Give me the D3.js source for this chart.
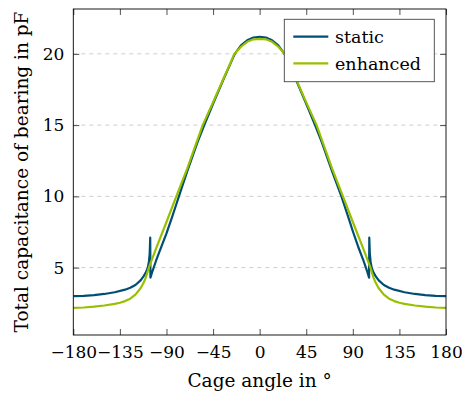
<!DOCTYPE html>
<html>
<head>
<meta charset="utf-8">
<script src="https://cdn.jsdelivr.net/npm/d3@7"></script>
<style>
  html, body { margin: 0; padding: 0; background: #fff; }
  svg text { font-family: "DejaVu Serif", "Liberation Serif", "Noto Serif", serif; fill: #000; }
</style>
</head>
<body>
<svg id="chart" width="462" height="395"></svg>
<script>
// ---- data ----
const seriesNames = ["static", "enhanced"];
const staticAngles = [-180, -170, -160, -150, -140, -130, -125, -120, -115, -112, -110, -108, -107, -106.2, -105.7, -105.5, -104, -100, -95, -90, -85, -80, -78, -70, -60, -53.5, -45, -35, -28, -24, -18, -12, -6, 0,
  6, 12, 18, 24, 28, 35, 45, 53.5, 60, 70, 79, 81, 86, 90, 95, 100, 104, 105.7, 105.9, 106.4, 107.2, 108.2, 110, 112, 115, 120, 125, 130, 140, 150, 160, 170, 180];
const staticValues = [3.0, 3.02, 3.07, 3.15, 3.27, 3.45, 3.58, 3.78, 4.1, 4.4, 4.65, 5.0, 5.4, 6.0, 7.1, 4.3, 4.65, 5.5, 6.45, 7.4, 8.45, 9.55, 10.0, 11.75, 13.8, 15.0, 16.5, 18.2, 19.35, 20.0, 20.6, 20.95, 21.15, 21.2,
  21.15, 20.95, 20.6, 20.0, 19.35, 18.2, 16.5, 15.0, 13.8, 11.75, 10.0, 9.55, 8.45, 7.55, 6.5, 5.55, 4.7, 4.3, 7.1, 6.0, 5.4, 5.0, 4.65, 4.4, 4.1, 3.78, 3.58, 3.45, 3.27, 3.15, 3.07, 3.02, 3.0];
const enhancedAngles = [-180, -170, -160, -150, -140, -135, -130, -125, -120, -115, -112, -110, -107, -100, -90, -80.5, -70, -55, -45, -35, -28, -24.5, -18, -12, -6, 0,
  6, 12, 18, 24.5, 28, 35, 45, 55, 70, 80.5, 90, 100, 107, 110, 112, 115, 120, 125, 130, 135, 140, 150, 160, 170, 180];
const enhancedValues = [2.17, 2.2, 2.26, 2.34, 2.45, 2.53, 2.65, 2.82, 3.1, 3.55, 3.95, 4.3, 5.0, 6.35, 8.2, 10.0, 11.95, 15.0, 16.6, 18.25, 19.4, 20.0, 20.5, 20.85, 21.02, 21.05,
  21.02, 20.85, 20.5, 20.0, 19.4, 18.25, 16.6, 15.0, 11.95, 10.0, 8.2, 6.35, 5.0, 4.3, 3.95, 3.55, 3.1, 2.82, 2.65, 2.53, 2.45, 2.34, 2.26, 2.2, 2.17];
const xTicks = [-180, -135, -90, -45, 0, 45, 90, 135, 180];
const xTickLabels = ["−180", "−135", "−90", "−45", "0", "45", "90", "135", "180"];
const yTicks = [5, 10, 15, 20];
const yTickLabels = ["5", "10", "15", "20"];
const xLabel = "Cage angle in °";
const yLabel = "Total capacitance of bearing in pF";
const colors = ["#004E73", "#99C000"];

// ---- layout ----
const FONT = "'DejaVu Serif', 'Liberation Serif', 'Noto Serif', serif";
const FS = 17, FS_TITLE = 18.5, FS_LEG = 17.5;
const L = 73.3, R = 446, T = 9, B = 335;
const svg = d3.select("#chart");
const x = d3.scaleLinear().domain([-180, 180]).range([L, R]);
const y = d3.scaleLinear().domain([0.27, 23.15]).range([B, T]);

// grid
svg.append("g").selectAll("line").data(yTicks).join("line")
  .attr("x1", L).attr("x2", R)
  .attr("y1", d => y(d)).attr("y2", d => y(d))
  .attr("stroke", "#c8c8c8").attr("stroke-width", 0.9)
  .attr("stroke-dasharray", "4,4");

// data lines
const clipId = "plotclip";
svg.append("clipPath").attr("id", clipId).append("rect")
  .attr("x", L).attr("y", T).attr("width", R - L).attr("height", B - T);
const line = d3.line().x(d => x(d[0])).y(d => y(d[1]));
const series = [
  d3.zip(staticAngles, staticValues),
  d3.zip(enhancedAngles, enhancedValues)
];
svg.append("g").attr("clip-path", `url(#${clipId})`)
  .selectAll("path").data(series).join("path")
  .attr("d", line)
  .attr("fill", "none")
  .attr("stroke", (d, i) => colors[i])
  .attr("stroke-width", 2.2)
  .attr("stroke-linejoin", "round");

// axes (ticks inside, mirrored)
const tk = 6;
const axB = svg.append("g").attr("transform", `translate(0,${B})`)
  .call(d3.axisBottom(x).tickValues(xTicks).tickFormat((d, i) => xTickLabels[i]).tickSize(-tk).tickPadding(11));
const axT = svg.append("g").attr("transform", `translate(0,${T})`)
  .call(d3.axisTop(x).tickValues(xTicks).tickFormat("").tickSize(-tk));
const axL = svg.append("g").attr("transform", `translate(${L},0)`)
  .call(d3.axisLeft(y).tickValues(yTicks).tickFormat((d, i) => yTickLabels[i]).tickSize(-tk).tickPadding(9));
const axR = svg.append("g").attr("transform", `translate(${R},0)`)
  .call(d3.axisRight(y).tickValues(yTicks).tickFormat("").tickSize(-tk));
[axB, axT, axL, axR].forEach(g => {
  g.attr("font-family", null).attr("font-size", null);
  g.select(".domain").remove();
  g.selectAll(".tick line").attr("stroke", "#333").attr("stroke-width", 0.85);
  g.selectAll("text").attr("font-size", FS).style("font-family", FONT).attr("fill", "#000");
});

// frame
svg.append("rect").attr("x", L).attr("y", T).attr("width", R - L).attr("height", B - T)
  .attr("fill", "none").attr("stroke", "#000").attr("stroke-width", 0.9);

// axis labels
svg.append("text").attr("x", (L + R) / 2).attr("y", 387)
  .attr("text-anchor", "middle").attr("font-size", FS_TITLE).style("font-family", FONT).text(xLabel);
svg.append("text").attr("transform", `translate(28,${(T + B) / 2}) rotate(-90)`)
  .attr("text-anchor", "middle").attr("font-size", FS_TITLE).style("font-family", FONT).text(yLabel);

// legend
const lg = svg.append("g");
lg.append("rect").attr("x", 284.3).attr("y", 19.3).attr("width", 150).attr("height", 62.4)
  .attr("fill", "#fff").attr("stroke", "#444").attr("stroke-width", 0.9);
seriesNames.forEach((name, i) => {
  const yy = 36.7 + i * 26.6;
  lg.append("line").attr("x1", 293.3).attr("x2", 328.3).attr("y1", yy).attr("y2", yy)
    .attr("stroke", colors[i]).attr("stroke-width", 2.2);
  lg.append("text").attr("x", 335).attr("y", yy + 6.5).attr("font-size", FS_LEG).style("font-family", FONT).text(name);
});
</script>
</body>
</html>
